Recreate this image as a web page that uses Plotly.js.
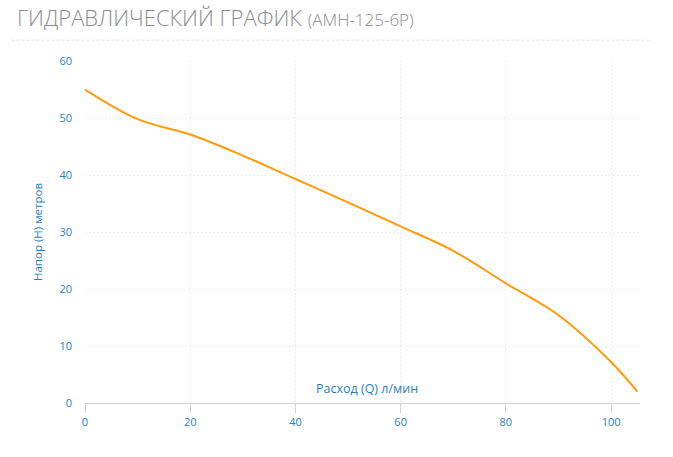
<!DOCTYPE html>
<html>
<head>
<meta charset="utf-8">
<script src="https://cdn.plot.ly/plotly-3.0.1.min.js"></script>
<style>
  html, body { margin: 0; padding: 0; background: #fff; }
  #chart { width: 673px; height: 457px; }
</style>
</head>
<body>
<div id="chart"></div>
<script>
// расход, л/мин
const flow = [0, 10, 20, 30, 40, 50, 60, 70, 80, 90, 100, 105];
// напор, м
const head = [55, 49.8, 47.1, 43.4, 39.3, 35.2, 31, 26.7, 21, 15.4, 7.2, 2];
const xTicks = [0, 20, 40, 60, 80, 100];
const yTicks = [0, 10, 20, 30, 40, 50, 60];

const blue = '#1f7fc4';

const data = [{
  x: flow,
  y: head,
  type: 'scatter',
  mode: 'lines',
  line: { color: '#ff9a0a', width: 2, shape: 'spline', smoothing: 1 },
  hoverinfo: 'x+y'
}];

const layout = {
  width: 673,
  height: 457,
  margin: { l: 85, r: 33, t: 61, b: 54 },
  paper_bgcolor: '#fff',
  plot_bgcolor: '#fff',
  showlegend: false,
  font: { family: '"Open Sans", sans-serif', size: 11, color: blue },
  xaxis: {
    range: [0, 105.5],
    tickvals: xTicks,
    ticktext: xTicks.map(String),
    showgrid: true,
    gridcolor: '#e2e2e2',
    griddash: '1px,3px',
    showline: true,
    linecolor: '#c9d4e6',
    linewidth: 1,
    ticks: 'outside',
    ticklen: 9,
    tickcolor: '#c9d4e6',
    tickfont: { size: 11, color: blue },
    zeroline: false,
    fixedrange: true
  },
  yaxis: {
    range: [0, 60],
    tickvals: yTicks,
    ticktext: yTicks.map(String),
    showgrid: true,
    gridcolor: '#e2e2e2',
    griddash: '1px,3px',
    showline: false,
    ticks: '',
    ticklabelstandoff: 12,
    tickfont: { size: 11, color: blue },
    zeroline: false,
    title: { text: 'Напор (H) метров', font: { size: 11.5, color: blue }, standoff: 14 },
    fixedrange: true
  },
  annotations: [
    {
      text: 'Расход (Q) л/мин',
      xref: 'paper', yref: 'paper',
      x: 0.508, y: 0, xanchor: 'center', yanchor: 'bottom', yshift: 4,
      showarrow: false,
      font: { size: 12.5, color: blue }
    },
    {
      text: 'ГИДРАВЛИЧЕСКИЙ ГРАФИК <span style="font-size:17px">(АМН-125-6Р)</span>',
      xref: 'paper', yref: 'paper',
      x: -0.127, y: 1.128, xanchor: 'left', yanchor: 'middle',
      showarrow: false,
      font: { size: 22, color: '#8c8c8c', family: '"Open Sans", sans-serif', weight: 300 }
    }
  ],
  shapes: [{
    type: 'line',
    xref: 'paper', yref: 'paper',
    x0: -0.1325, x1: 1.0165, y0: 1.061, y1: 1.061,
    line: { color: '#e0e0e0', width: 1, dash: '3px,2px' }
  }]
};

Plotly.newPlot('chart', data, layout, { displayModeBar: false });
</script>
</body>
</html>
